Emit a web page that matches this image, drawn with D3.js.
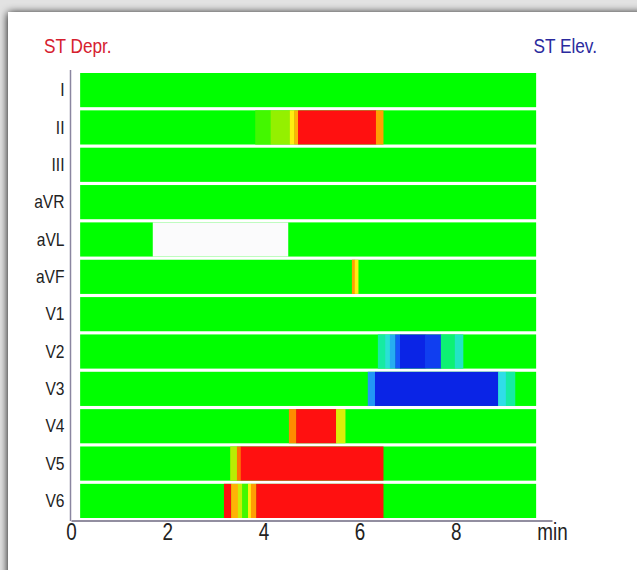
<!DOCTYPE html>
<html>
<head>
<meta charset="utf-8">
<script src="https://cdn.jsdelivr.net/npm/d3@7"></script>
<style>
  body { margin: 0; background: #e2e2e2; }
  svg { display: block; font-family: 'Liberation Sans', Arial, sans-serif; }
</style>
</head>
<body>
<svg></svg>
<script>
// leads, top to bottom
let leads = ['I', 'II', 'III', 'aVR', 'aVL', 'aVF', 'V1', 'V2', 'V3', 'V4', 'V5', 'V6']

// recording covers this time span (min)
let recordFrom = 0.19
let recordTo = 9.67

// ST segments that are not baseline: lead, from (min), to (min), level
// level < 0 = depression, > 0 = elevation, null = no signal
let segLead = [
  'II', 'II', 'II', 'II', 'II', 'II',
  'aVL',
  'aVF', 'aVF',
  'V2', 'V2', 'V2', 'V2', 'V2', 'V2', 'V2', 'V2',
  'V3', 'V3', 'V3', 'V3',
  'V4', 'V4', 'V4',
  'V5', 'V5', 'V5',
  'V6', 'V6', 'V6', 'V6', 'V6', 'V6', 'V6'
]
let segFrom = [
  3.83, 4.15, 4.55, 4.64, 4.72, 6.34,
  1.70,
  5.84, 5.90,
  6.38, 6.53, 6.63, 6.74, 6.84, 7.36, 7.69, 7.98,
  6.17, 6.32, 8.88, 9.04,
  4.53, 4.68, 5.51,
  3.31, 3.45, 3.53,
  3.18, 3.33, 3.47, 3.56, 3.68, 3.74, 3.85
]
let segTo = [
  4.15, 4.55, 4.64, 4.72, 6.34, 6.49,
  4.51,
  5.90, 5.97,
  6.53, 6.63, 6.74, 6.84, 7.36, 7.69, 7.98, 8.15,
  6.32, 8.88, 9.04, 9.23,
  4.68, 5.51, 5.70,
  3.45, 3.53, 6.49,
  3.33, 3.47, 3.56, 3.68, 3.74, 3.85, 6.49
]
let segLevel = [
  -0.1, -0.22, -0.5, -0.65, -1, -0.7,
  null,
  -0.7, -0.5,
  0.3, 0.45, 0.6, 0.8, 1, 0.9, 0.2, 0.4,
  0.65, 1, 0.5, 0.3,
  -0.75, -1, -0.4,
  -0.3, -0.8, -1,
  -1, -0.65, -0.35, -0.1, -0.5, -0.7, -1
]

let xTickValues = [0, 2, 4, 6, 8, 10]
let xTickLabels = ['0', '2', '4', '6', '8', 'min']

let width = 637
let height = 570

let svg = d3.select('svg')
    .attr('width', width)
    .attr('height', height)

// card with soft shadow
let defs = svg.append('defs')
let shadow = defs.append('filter')
    .attr('id', 'shadow')
    .attr('x', -0.05).attr('y', -0.05)
    .attr('width', 1.1).attr('height', 1.1)
shadow.append('feGaussianBlur')
    .attr('in', 'SourceAlpha')
    .attr('stdDeviation', 4)
shadow.append('feOffset').attr('dy', 1).attr('result', 'blur')
let merge = shadow.append('feMerge')
merge.append('feMergeNode').attr('in', 'blur')
merge.append('feMergeNode').attr('in', 'SourceGraphic')

svg.append('rect')
    .attr('x', 8)
    .attr('y', 12)
    .attr('width', width)
    .attr('height', height)
    .attr('fill', '#fff')
    .style('filter', 'url(#shadow)')

let xScale = d3.scaleLinear()
                .domain([0, 10])
                .range([71, 552])

let yScale = d3.scaleBand()
                .domain(leads)
                .range([73, 518])
                .paddingInner(0.085)

let colorScale = d3.scaleLinear()
                    .domain([-1, -0.75, -0.5, -0.25, 0, 0.25, 0.5, 0.75, 1])
                    .range(['#ff1010', '#ff8a00', '#ffee10', '#a8ee00', '#00ff00',
                            '#10ee90', '#30dde8', '#1866ff', '#0a24e6'])

let fill = level => level === null ? '#fbfbfc' : colorScale(level)

let segments = segLead.map((lead, i) => ({
  lead: lead,
  from: segFrom[i],
  to: segTo[i],
  level: segLevel[i]
}))

// baseline (green) rows
svg.append('g')
  .selectAll('rect')
  .data(leads)
  .enter()
  .append('rect')
    .attr('x', xScale(recordFrom))
    .attr('y', d => yScale(d))
    .attr('width', xScale(recordTo) - xScale(recordFrom))
    .attr('height', yScale.bandwidth())
    .attr('fill', fill(0))

// deviations
svg.append('g')
  .selectAll('rect')
  .data(segments)
  .enter()
  .append('rect')
    .attr('x', d => xScale(d.from))
    .attr('y', d => yScale(d.lead))
    .attr('width', d => xScale(d.to) - xScale(d.from) + 0.3)
    .attr('height', yScale.bandwidth())
    .attr('fill', d => fill(d.level))

let xAxis = d3.axisBottom(xScale)
              .tickValues(xTickValues)
              .tickFormat((d, i) => xTickLabels[i])
              .tickSize(0)
              .tickSizeOuter(0)
              .tickPadding(3)

let yAxis = d3.axisLeft(yScale)
              .tickSize(0)
              .tickSizeOuter(0)
              .tickPadding(6)

let gx = svg.append('g')
    .attr('transform', 'translate(0, 520.5)')
    .call(xAxis)
gx.select('.domain').attr('stroke', '#6e6880').attr('stroke-width', 1.5)
gx.selectAll('text')
    .attr('fill', '#222')
    .style('font-size', '23px')

let gy = svg.append('g')
    .attr('transform', 'translate(70.5, 0)')
    .call(yAxis)
gy.select('.domain')
    .attr('d', 'M0,70V521')
    .attr('stroke', '#8a86a0')
    .attr('stroke-width', 1.5)
gy.selectAll('text')
    .attr('fill', '#222')
    .style('font-size', '19px')

// legend captions
svg.append('text')
    .attr('x', 44)
    .attr('y', 53)
    .attr('fill', '#d6202e')
    .style('font-size', '21px')
    .text('ST Depr.')

svg.append('text')
    .attr('x', 597)
    .attr('y', 53)
    .attr('fill', '#2a2a9e')
    .style('text-anchor', 'end')
    .style('font-size', '21px')
    .text('ST Elev.')

// the source lettering is narrow, squeeze every label a bit
svg.selectAll('text').each(function () {
  let w = this.getComputedTextLength()
  d3.select(this)
      .attr('textLength', w * 0.82)
      .attr('lengthAdjust', 'spacingAndGlyphs')
})
</script>
</body>
</html>
